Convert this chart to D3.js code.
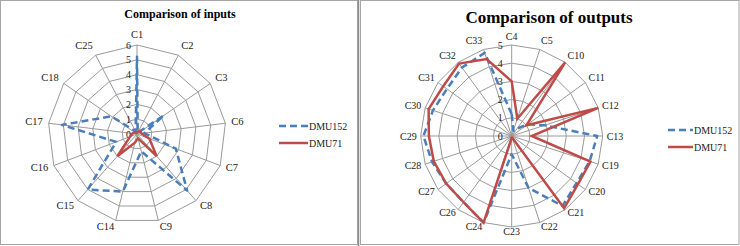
<!DOCTYPE html>
<html>
<head>
<meta charset="utf-8">
<script src="https://cdn.jsdelivr.net/npm/d3@7"></script>
<style>
  body { margin: 0; background: #fff; }
  svg { display: block; }
</style>
</head>
<body>
<svg id="chart" width="740" height="246"></svg>
<script>
// inputs panel
const inputAxes = ["C1", "C2", "C3", "C6", "C7", "C8", "C9", "C14", "C15", "C16", "C17", "C18", "C25"];
const inputDmu152 = [5.2, 0.1, 2.2, 0.5, 2.8, 5.1, 1.2, 4.0, 5.0, 1.5, 5.1, 2.1, 0.2];
const inputDmu71 = [0.1, 0.2, 0.3, 0.3, 0.9, 2.0, 0.3, 0.6, 2.0, 0.5, 0.3, 0.2, 0.1];
const inputTicks = [0, 1, 2, 3, 4, 5, 6];

// outputs panel
const outputAxes = ["C4", "C5", "C10", "C11", "C12", "C13", "C19", "C20", "C21", "C22", "C23", "C24", "C26", "C27", "C28", "C29", "C30", "C31", "C32", "C33"];
const outputDmu152 = [1.2, 0.3, 0.5, 1.1, 1.9, 4.7, 4.5, 4.4, 4.75, 3.0, 1.0, 5.0, 4.5, 4.45, 4.6, 4.85, 4.55, 4.4, 4.65, 4.8];
const outputDmu71 = [3.0, 1.0, 5.0, 1.0, 5.0, 1.1, 4.55, 4.5, 4.9, 0.1, 0.1, 5.0, 4.5, 4.45, 4.5, 4.55, 4.8, 4.65, 4.92, 4.45];
const outputTicks = [0, 1, 2, 3, 4, 5];

const seriesNames = ["DMU152", "DMU71"];
const blue = "#4a7ebb";
const red = "#be4b48";
const gridColor = "#9a9a9a";
const serif = "Times New Roman, Times, Liberation Serif, DejaVu Serif, Noto Serif, serif";

const svg = d3.select("#chart");

// chart area frames
svg.append("rect").attr("x", 0.5).attr("y", 0.5).attr("width", 357).attr("height", 244)
    .attr("fill", "#fff").attr("stroke", "#a6a6a6");
svg.append("rect").attr("x", 360.5).attr("y", 0.5).attr("width", 378.5).attr("height", 244)
    .attr("fill", "#fff").attr("stroke", "#a6a6a6");
svg.append("line").attr("x1", 358.5).attr("x2", 358.5).attr("y1", 0).attr("y2", 246)
    .attr("stroke", "#8c8c8c").attr("stroke-width", 1.5);

function drawRadar(opts) {
    const g = svg.append("g").attr("transform", `translate(${opts.cx},${opts.cy})`);
    const n = opts.axes.length;
    const maxV = opts.ticks[opts.ticks.length - 1];
    const r = d3.scaleLinear().domain([0, maxV]).range([0, opts.radius]);
    const angle = d3.scaleLinear().domain([0, n]).range([0, 2 * Math.PI]);

    // rings
    const ring = d3.lineRadial()
        .angle((d, i) => angle(i))
        .radius(d => r(d))
        .curve(d3.curveLinearClosed);
    opts.ticks.filter(t => t > 0).forEach(t => {
        g.append("path")
            .attr("d", ring(opts.axes.map(() => t)))
            .attr("fill", "none")
            .attr("stroke", gridColor)
            .attr("stroke-width", 1);
    });

    // spokes
    g.selectAll(".spoke").data(opts.axes).enter().append("line")
        .attr("x1", 0).attr("y1", 0)
        .attr("x2", (d, i) => r(maxV) * Math.sin(angle(i)))
        .attr("y2", (d, i) => -r(maxV) * Math.cos(angle(i)))
        .attr("stroke", gridColor)
        .attr("stroke-width", 1);

    // category labels
    g.selectAll(".cat").data(opts.axes).enter().append("text")
        .attr("x", (d, i) => (r(maxV) + opts.labelGap) * Math.sin(angle(i)))
        .attr("y", (d, i) => -(r(maxV) + opts.labelGap) * Math.cos(angle(i)))
        .attr("dy", (d, i) => 3.5 - 5 * Math.max(Math.cos(angle(i)), 0))
        .attr("text-anchor", (d, i) => {
            const s = Math.sin(angle(i));
            return s > 0.15 ? "start" : (s < -0.15 ? "end" : "middle");
        })
        .style("font-family", serif)
        .style("font-size", opts.labelSize + "px")
        .style("fill", "#222")
        .text(d => d);

    // tick labels on the first spoke
    g.selectAll(".tick").data(opts.ticks).enter().append("text")
        .attr("x", opts.tickX)
        .attr("y", d => -r(d))
        .attr("dy", 3.5)
        .attr("text-anchor", "end")
        .style("font-family", serif)
        .style("font-size", opts.tickSize + "px")
        .style("fill", "#222")
        .text(d => d);

    const line = d3.lineRadial()
        .angle((d, i) => angle(i))
        .radius(d => r(d))
        .curve(d3.curveLinearClosed);

    g.append("path")
        .attr("d", line(opts.blueData))
        .attr("fill", "none")
        .attr("stroke", blue)
        .attr("stroke-width", 2.5)
        .attr("stroke-dasharray", "7,4")
        .attr("stroke-linejoin", "round");

    g.append("path")
        .attr("d", line(opts.redData))
        .attr("fill", "none")
        .attr("stroke", red)
        .attr("stroke-width", 2.5)
        .attr("stroke-linejoin", "miter");

    // title
    svg.append("text")
        .attr("x", opts.titleX).attr("y", opts.titleY)
        .attr("text-anchor", "middle")
        .style("font-family", serif)
        .style("font-size", opts.titleSize + "px")
        .style("font-weight", "bold")
        .style("fill", "#000")
        .text(opts.title);

    // legend
    const lg = svg.append("g").attr("transform", `translate(${opts.legendX},${opts.legendY})`);
    seriesNames.forEach((name, i) => {
        const y = i * opts.legendGap;
        lg.append("line")
            .attr("x1", 0).attr("x2", opts.legendLen)
            .attr("y1", y).attr("y2", y)
            .attr("stroke", i === 0 ? blue : red)
            .attr("stroke-width", 2.5)
            .attr("stroke-dasharray", i === 0 ? "7,4" : null);
        lg.append("text")
            .attr("x", opts.legendLen + 1).attr("y", y)
            .attr("dy", 3.5)
            .style("font-family", serif)
            .style("font-size", "10px")
            .style("fill", "#222")
            .text(name);
    });
}

drawRadar({
    axes: inputAxes, blueData: inputDmu152, redData: inputDmu71, ticks: inputTicks,
    cx: 137, cy: 134, radius: 89, labelGap: 6, labelSize: 10.5, tickSize: 10, tickX: -6,
    title: "Comparison of inputs", titleX: 180, titleY: 18, titleSize: 12,
    legendX: 279, legendY: 126, legendGap: 17, legendLen: 29
});

drawRadar({
    axes: outputAxes, blueData: outputDmu152, redData: outputDmu71, ticks: outputTicks,
    cx: 511.7, cy: 136, radius: 91, labelGap: 4, labelSize: 10, tickSize: 10, tickX: -9,
    title: "Comparison of outputs", titleX: 549, titleY: 23, titleSize: 17,
    legendX: 668, legendY: 130, legendGap: 17, legendLen: 25
});
</script>
</body>
</html>
